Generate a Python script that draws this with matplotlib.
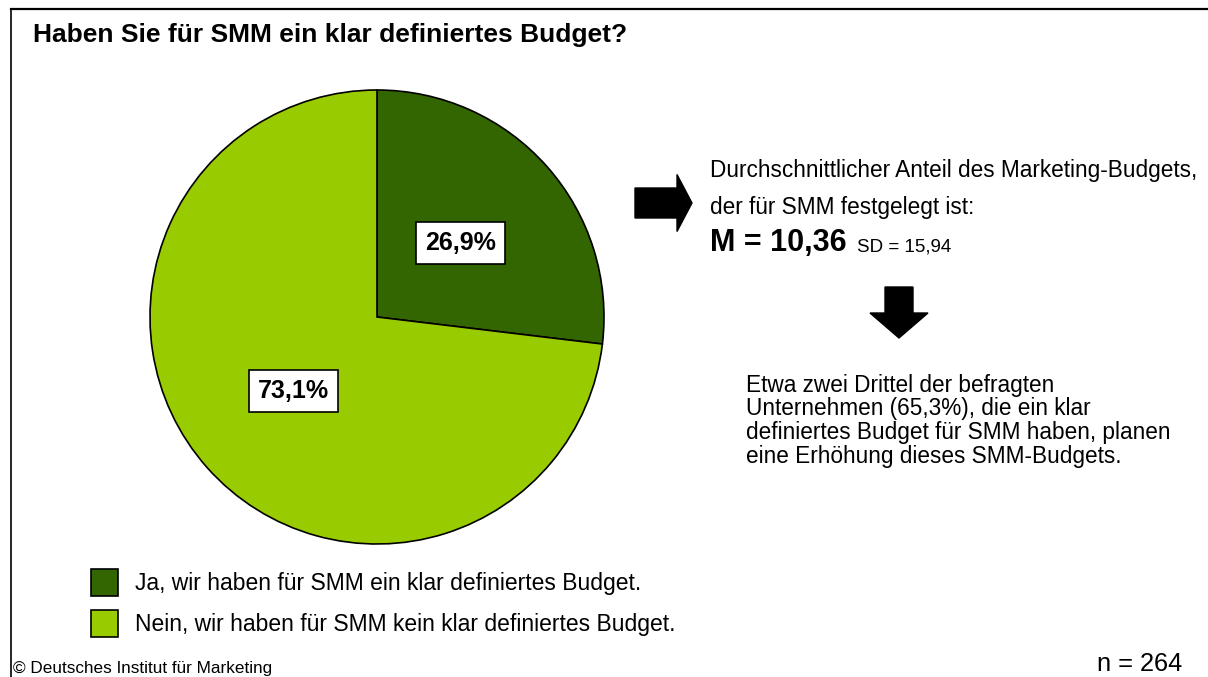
import matplotlib
matplotlib.use("Agg")
import matplotlib.pyplot as plt
from matplotlib.lines import Line2D
from matplotlib.patches import FancyArrow

plt.rcParams["font.family"] = ["Liberation Sans", "DejaVu Sans"]

# data
categories = ["Ja, wir haben für SMM ein klar definiertes Budget.",
              "Nein, wir haben für SMM kein klar definiertes Budget."]
shares = [26.9, 73.1]
colors = ["#336600", "#99CC00"]

title = "Haben Sie für SMM ein klar definiertes Budget?"
info_lines = ["Durchschnittlicher Anteil des Marketing-Budgets,",
              "der für SMM festgelegt ist:"]
mean_text = "M = 10,36"
sd_text = "SD = 15,94"
note_lines = ["Etwa zwei Drittel der befragten",
              "Unternehmen (65,3%), die ein klar",
              "definiertes Budget für SMM haben, planen",
              "eine Erhöhung dieses SMM-Budgets."]
source = "© Deutsches Institut für Marketing"
n_text = "n = 264"

W, H = 1208, 677
fig = plt.figure(figsize=(W / 100, H / 100), dpi=100)

# overlay in pixel coordinates for frame, arrows and notes
ov = fig.add_axes([0, 0, 1, 1])
ov.set_xlim(0, W)
ov.set_ylim(H, 0)
ov.axis("off")

ov.add_line(Line2D([11, W], [9, 9], color="black", lw=1.6))
ov.add_line(Line2D([11, 11], [9, H], color="black", lw=1.2))

ov.text(33, 42, title, fontsize=19, fontweight="bold", va="baseline")

# pie
ax = fig.add_axes([150 / W, 1 - 544 / H, 454 / W, 454 / H])
wedges, texts, autotexts = ax.pie(
    shares,
    colors=colors,
    startangle=90,
    counterclock=False,
    autopct=lambda p: f"{p:.1f}%".replace(".", ","),
    pctdistance=0.49,
    wedgeprops=dict(edgecolor="black", linewidth=1.2),
)
ax.set_xlim(-1.0, 1.0)
ax.set_ylim(-1.0, 1.0)
ax.set_aspect("auto")
for t in autotexts:
    t.set_fontsize(18)
    t.set_fontweight("bold")
    t.set_bbox(dict(boxstyle="square,pad=0.36", facecolor="white",
                    edgecolor="black", linewidth=1.2))

leg = fig.legend(wedges, categories, loc="upper left",
                 bbox_to_anchor=(91 / W, 1 - 569 / H),
                 frameon=False, fontsize=16.5, borderpad=0, borderaxespad=0,
                 handlelength=1.18, handleheight=1.44, handletextpad=0.75,
                 labelspacing=0.6)

# arrows
ov.add_patch(FancyArrow(635, 203, 57, 0, width=30, head_width=57,
                        head_length=15, length_includes_head=True,
                        color="black"))
ov.add_patch(FancyArrow(899, 287, 0, 51, width=28, head_width=58,
                        head_length=25, length_includes_head=True,
                        color="black"))

ov.text(710, 177, info_lines[0], fontsize=16.3, va="baseline")
ov.text(710, 214, info_lines[1], fontsize=16.3, va="baseline")
ov.text(710, 251, mean_text, fontsize=22, fontweight="bold", va="baseline")
ov.text(857, 251, sd_text, fontsize=13.5, va="baseline")

for i, line in enumerate(note_lines):
    ov.text(746, 392 + i * 23.5, line, fontsize=16.3, va="baseline")

ov.text(13, 673, source, fontsize=12.3, va="baseline")
ov.text(1097, 671, n_text, fontsize=18.3, va="baseline")

fig.savefig("out.png", dpi=100)
